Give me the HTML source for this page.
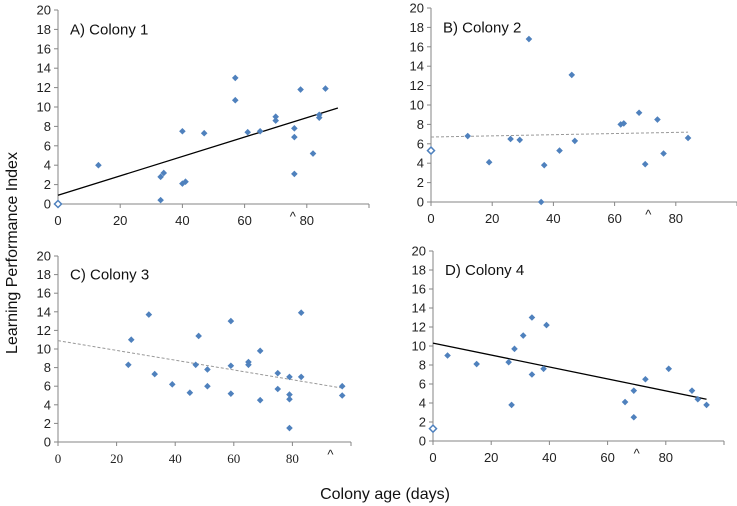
<!DOCTYPE html>
<html><head><meta charset="utf-8">
<style>
body{margin:0;background:#fff;}
svg{display:block;font-family:"Liberation Sans",sans-serif;}
</style></head>
<body>
<svg id="chart" width="737" height="506" viewBox="0 0 737 506" xmlns="http://www.w3.org/2000/svg">
<text x="0" y="0" transform="translate(17,253) rotate(-90)" text-anchor="middle" font-size="16" fill="#111">Learning Performance Index</text>
<text x="385" y="499" text-anchor="middle" font-size="16" fill="#111">Colony age (days)</text>
</svg>
<script>
const yTicks = [0,2,4,6,8,10,12,14,16,18,20];
const xTicks = [0,20,40,60,80];
const titles = ["A) Colony 1","B) Colony 2","C) Colony 3","D) Colony 4"];
const agesA = [13,33,34,33,40,40,41,47,57,57,61,65,70,70,76,76,76,78,82,84,84,86];
const lpiA  = [4,2.8,3.2,0.4,7.5,2.1,2.3,7.3,13,10.7,7.4,7.5,9,8.6,7.8,6.9,3.1,11.8,5.2,9.2,8.9,11.9];
const agesB = [12,19,26,29,32,36,37,42,46,47,62,63,68,70,74,76,84];
const lpiB  = [6.8,4.1,6.5,6.4,16.8,0,3.8,5.3,13.1,6.3,8,8.1,9.2,3.9,8.5,5,6.6];
const agesC = [24,25,31,33,39,45,47,48,51,51,59,59,59,65,65,69,69,75,75,79,79,79,79,83,83,97,97];
const lpiC  = [8.3,11,13.7,7.3,6.2,5.3,8.3,11.4,7.8,6,13,8.2,5.2,8.6,8.3,9.8,4.5,7.4,5.7,7,5.1,4.6,1.5,13.9,7,6,5];
const agesD = [5,15,26,27,28,31,34,34,38,39,66,69,69,73,81,89,91,94];
const lpiD  = [9,8.1,8.3,3.8,9.7,11.1,13,7,7.6,12.2,4.1,5.3,2.5,6.5,7.6,5.3,4.4,3.8];
const baseline = [0,5.3,null,1.3];
const trendX = [[0,90],[0,84],[0,97],[0,94]];
const trendY = [[0.9,9.9],[6.7,7.2],[10.9,5.8],[10.3,4.4]];
const caretX = [75.5,71,93,70];

const ages=[agesA,agesB,agesC,agesD], lpis=[lpiA,lpiB,lpiC,lpiD];
const layout=[
 {x0:58,x1:369,y0:204,y1:10,dash:false},
 {x0:431,x1:737,y0:202,y1:8,dash:true},
 {x0:58,x1:351,y0:442,y1:256,dash:true,serif:true},
 {x0:433,x1:724,y0:441,y1:251,dash:false}
];
const NS="http://www.w3.org/2000/svg";
const svg=document.getElementById('chart');
function mk(tag,attrs,parent){const e=document.createElementNS(NS,tag);for(const k in attrs)e.setAttribute(k,attrs[k]);(parent||svg).appendChild(e);return e;}
layout.forEach((L,i)=>{
  const sx=v=>L.x0+(v/100)*(L.x1-L.x0);
  const sy=v=>L.y0+(v/20)*(L.y1-L.y0);
  const g=mk('g',{});
  
  
  const ya=mk('line',{x1:L.x0,x2:L.x0,y1:sy(0),y2:sy(20),stroke:'#868686','stroke-width':1},g);
  
  
  const xa=mk('line',{x1:L.x0,x2:L.x1,y1:sy(0),y2:sy(0),stroke:'#868686','stroke-width':1},g);
  
  
  yTicks.forEach(t=>{
    mk('line',{x1:L.x0-4,x2:L.x0,y1:sy(t),y2:sy(t),stroke:'#868686'},g);
    const tx=mk('text',{x:L.x0-7,y:sy(t)+4.5,'text-anchor':'end','font-size':13,fill:'#222'},g);
    tx.textContent=t;
    
    
  });
  xTicks.forEach(t=>{
    mk('line',{x1:sx(t),x2:sx(t),y1:sy(0),y2:sy(0)+4,stroke:'#868686'},g);
    const tx=mk('text',{x:sx(t),y:sy(0)+21,'text-anchor':'middle','font-size':13,fill:'#222'},g);
    if(L.serif) tx.setAttribute('font-family','"Liberation Serif",serif');
    tx.textContent=t;
    
    
  });
  mk('line',{x1:sx(100),x2:sx(100),y1:sy(0),y2:sy(0)+4,stroke:'#868686'},g);
  const ttl=mk('text',{x:L.x0+12,y:sy(18)+5,'font-size':15,fill:'#111'},g);
  ttl.textContent=titles[i];
  
  
  const car=mk('text',{x:sx(caretX[i]),y:sy(0)+17,'text-anchor':'middle','font-size':13,fill:'#222'},g);
  car.textContent='^';
  
  
  const tl=mk('line',{x1:sx(trendX[i][0]),y1:sy(trendY[i][0]),x2:sx(trendX[i][1]),y2:sy(trendY[i][1]),stroke:L.dash?'#999':'#000','stroke-width':L.dash?1:1.3,'stroke-dasharray':L.dash?'3,2':'none'},g);
  
  
  ages[i].forEach((a,k)=>{
    const x=sx(a),y=sy(lpis[i][k]);
    const p=mk('polygon',{points:`${x},${y-3.3} ${x+3.3},${y} ${x},${y+3.3} ${x-3.3},${y}`,fill:'#4f81bd'},g);
    
    
  });
  if(baseline[i]!==null){
    const x=sx(0),y=sy(baseline[i]);
    const p=mk('polygon',{points:`${x},${y-3.5} ${x+3.5},${y} ${x},${y+3.5} ${x-3.5},${y}`,fill:'#fff',stroke:'#4f81bd','stroke-width':1.5},g);
    
    
  }
});
</script>
</body></html>
